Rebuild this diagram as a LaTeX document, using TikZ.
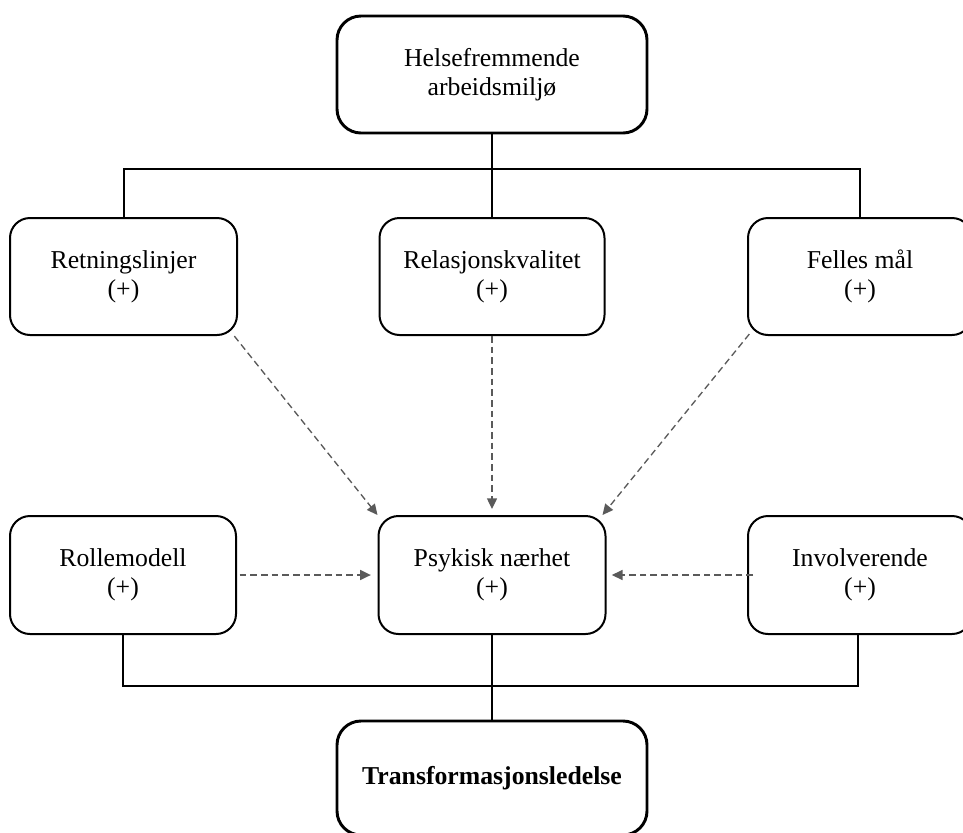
\documentclass[tikz,border=0pt]{standalone}
\usepackage{fontspec}
\setmainfont{Liberation Serif}
\usetikzlibrary{arrows.meta}
\definecolor{dashgray}{HTML}{5A5A5A}
\begin{document}
\begin{tikzpicture}[x=0.75pt,y=-0.75pt,
  box/.style={draw=black, line width=1.5pt, rounded corners=15pt, align=center,
    inner sep=0pt, font=\fontsize{19.3}{22}\selectfont, fill=white},
  bigbox/.style={box, line width=2.2pt, rounded corners=18pt},
  link/.style={draw=black, line width=1.5pt},
  dasharrow/.style={draw=dashgray, line width=1pt, dash pattern=on 5pt off 3pt,
    -{Triangle[length=8pt,width=7.5pt]}}]
\path[use as bounding box, clip] (0,0) rectangle (963,832);

\node[bigbox, minimum width=232.5pt, minimum height=87.75pt] (top) at (492,74.5)
  {Helsefremmende\\arbeidsmiljø};

\node[box, minimum width=170.25pt, minimum height=87.75pt] (ret) at (123.5,276.5)
  {Retningslinjer\\(+)};
\node[box, minimum width=168.75pt, minimum height=87.75pt] (rel) at (492,276.5)
  {Relasjonskvalitet\\(+)};
\node[box, minimum width=168pt, minimum height=87.75pt] (fel) at (860,276.5)
  {Felles mål\\(+)};

\node[box, minimum width=169.5pt, minimum height=88.5pt] (rol) at (123,575)
  {Rollemodell\\(+)};
\node[box, minimum width=170.25pt, minimum height=88.5pt] (psy) at (492,575)
  {Psykisk nærhet\\(+)};
\node[box, minimum width=168pt, minimum height=88.5pt] (inv) at (860,575)
  {Involverende\\(+)};

\node[bigbox, minimum width=232.5pt, minimum height=85.5pt, font=\fontsize{19.3}{22}\selectfont\bfseries] (tra) at (492,778)
  {Transformasjonsledelse};

% solid connectors
\coordinate (jt) at (492,169);
\coordinate (jb) at (492,686);
\draw[link] (top.south) -- (rel.north);
\draw[link] (ret.north) |- (jt) -| (fel.north);
\draw[link] (rol.south) |- (jb) -| ([xshift=-1.5pt]inv.south);
\draw[link] (psy.south) -- (tra.north);

% dashed arrows
\draw[dasharrow, shorten <=2pt] ([xshift=-4pt,yshift=1.5pt]ret.south east) -- (psy.north west);
\draw[dasharrow, shorten >=4.5pt] (rel.south) -- (psy.north);
\draw[dasharrow, shorten <=2pt] ([xshift=3pt,yshift=3pt]fel.south west) -- ([xshift=-3pt]psy.north east);
\draw[dasharrow, shorten <=2pt, shorten >=5pt] (rol.east) -- (psy.west);
\draw[dasharrow, shorten >=4pt] ([xshift=4.5pt]inv.west) -- (psy.east);
\end{tikzpicture}
\end{document}
